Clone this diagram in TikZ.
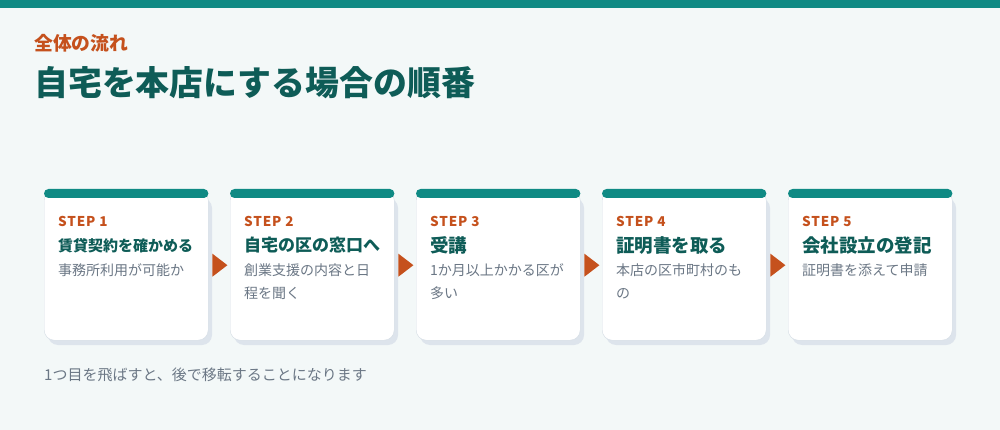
\documentclass[tikz,border=0pt]{standalone}
\usepackage{fontspec}
\setmainfont{Noto Sans CJK JP}
\usetikzlibrary{calc}

\definecolor{bgc}{HTML}{F3F8F8}
\definecolor{barc}{HTML}{0F8A84}
\definecolor{headc}{HTML}{0E5C57}
\definecolor{orangec}{HTML}{C5511D}
\definecolor{grayc}{HTML}{6B7785}
\definecolor{linec}{HTML}{D3DCE4}
\definecolor{shadowc}{HTML}{DDE4EC}

\tikzset{
    card/.style={rectangle, draw=linec, fill=white, rounded corners=10pt,
        minimum width=164pt, minimum height=150pt, anchor=north west, inner sep=0},
    cardshadow/.style={fill=shadowc, rounded corners=10pt},
    strip/.style={fill=barc, rounded corners=4.5pt},
    steplbl/.style={anchor=west, inner sep=0, text=orangec,
        font=\bfseries\fontsize{13.5}{16}\selectfont\addfontfeature{LetterSpace=6}},
    steptitle/.style={anchor=west, inner sep=0, text=headc, font=\bfseries\fontsize{#1}{22}\selectfont},
    stepdesc/.style={anchor=north west, inner sep=0, text=grayc, align=left,
        font=\fontsize{14}{23}\selectfont},
    nextarrow/.style={fill=orangec}
}

\begin{document}
\begin{tikzpicture}[x=1pt,y=-1pt]
    \useasboundingbox (0,0) rectangle (1000,430);
    \fill[bgc] (0,0) rectangle (1000,430);
    \fill[barc] (0,0) rectangle (1000,8);

    \node (kicker)[anchor=west, inner sep=0, text=orangec,
        font=\bfseries\fontsize{18.8}{22}\selectfont] at (34,43) {全体の流れ};
    \node (title)[anchor=west, inner sep=0, text=headc,
        font=\bfseries\fontsize{33.9}{40}\selectfont] at (34,83) {自宅を本店にする場合の順番};

    % cards
    \begin{scope}
        \foreach \x in {44,230,416,602,788}
            \fill[cardshadow] (\x+4,198) rectangle (\x+168,345);
        \node (s1)[card] at (44,190) {};
        \node (s2)[card] at (230,190) {};
        \node (s3)[card] at (416,190) {};
        \node (s4)[card] at (602,190) {};
        \node (s5)[card] at (788,190) {};
    \end{scope}

    \begin{scope}
        \fill[strip] ($(s1.north west)+(0,-1)$) rectangle ($(s1.north east)+(0,8)$);
        \fill[strip] ($(s2.north west)+(0,-1)$) rectangle ($(s2.north east)+(0,8)$);
        \fill[strip] ($(s3.north west)+(0,-1)$) rectangle ($(s3.north east)+(0,8)$);
        \fill[strip] ($(s4.north west)+(0,-1)$) rectangle ($(s4.north east)+(0,8)$);
        \fill[strip] ($(s5.north west)+(0,-1)$) rectangle ($(s5.north east)+(0,8)$);
    \end{scope}

    % texts
    \node (l1)[steplbl] at ($(s1.north west)+(14,31)$) {STEP 1};
    \node (t1)[steptitle=15] at ($(s1.north west)+(14,55.5)$) {賃貸契約を確かめる};
    \node (d1)[stepdesc] at ($(s1.north west)+(14,73.5)$) {事務所利用が可能か};

    \node (l2)[steplbl] at ($(s2.north west)+(14,31)$) {STEP 2};
    \node (t2)[steptitle=17] at ($(s2.north west)+(14,55.5)$) {自宅の区の窓口へ};
    \node (d2)[stepdesc] at ($(s2.north west)+(14,73.5)$) {創業支援の内容と日\\程を聞く};

    \node (l3)[steplbl] at ($(s3.north west)+(14,31)$) {STEP 3};
    \node (t3)[steptitle=18.5] at ($(s3.north west)+(14,55.5)$) {受講};
    \node (d3)[stepdesc] at ($(s3.north west)+(14,73.5)$) {1か月以上かかる区が\\多い};

    \node (l4)[steplbl] at ($(s4.north west)+(14,31)$) {STEP 4};
    \node (t4)[steptitle=18.5] at ($(s4.north west)+(14,55.5)$) {証明書を取る};
    \node (d4)[stepdesc] at ($(s4.north west)+(14,73.5)$) {本店の区市町村のも\\の};

    \node (l5)[steplbl] at ($(s5.north west)+(14,31)$) {STEP 5};
    \node (t5)[steptitle=18.5] at ($(s5.north west)+(14,55.5)$) {会社設立の登記};
    \node (d5)[stepdesc] at ($(s5.north west)+(14,73.5)$) {証明書を添えて申請};

    % arrows between cards
    \fill[nextarrow] ($(s1.east)+(4,-11.5)$) -- ++(15,11.5) -- ++(-15,11.5) -- cycle;
    \fill[nextarrow] ($(s2.east)+(4,-11.5)$) -- ++(15,11.5) -- ++(-15,11.5) -- cycle;
    \fill[nextarrow] ($(s3.east)+(4,-11.5)$) -- ++(15,11.5) -- ++(-15,11.5) -- cycle;
    \fill[nextarrow] ($(s4.east)+(4,-11.5)$) -- ++(15,11.5) -- ++(-15,11.5) -- cycle;

    \node (note)[anchor=west, inner sep=0, text=grayc, font=\fontsize{15}{18}\selectfont]
        at (44,375) {1つ目を飛ばすと、後で移転することになります};
\end{tikzpicture}
\end{document}
